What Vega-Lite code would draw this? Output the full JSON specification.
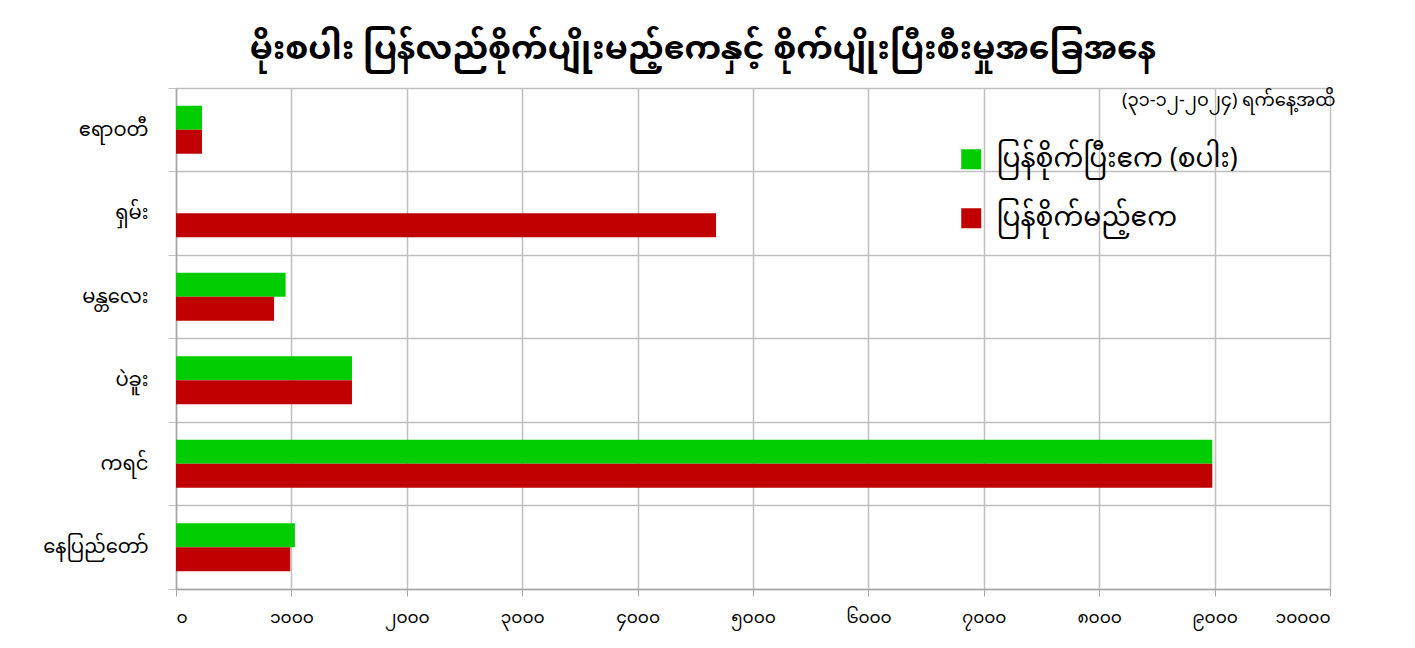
{
  "$schema": "https://vega.github.io/schema/vega-lite/v6.json",
  "autosize": "none",
  "width": 1154,
  "height": 501,
  "padding": {"left": 176, "top": 88, "right": 85, "bottom": 59},
  "background": "white",
  "config": {
    "font": "Noto Sans Myanmar, Padauk, Myanmar Text, Noto Sans",
    "view": {"stroke": null}
  },
  "title": {
    "text": "မိုးစပါး ပြန်လည်စိုက်ပျိုးမည့်ဧကနှင့် စိုက်ပျိုးပြီးစီးမှုအခြေအနေ",
    "fontSize": 33,
    "fontWeight": "bold",
    "color": "black",
    "anchor": "middle",
    "frame": "group",
    "dx": -50,
    "offset": 12
  },
  "data": {
    "values": [
      {"region": "ဧရာဝတီ", "series": "ပြန်စိုက်ပြီးဧက (စပါး)", "acres": 225},
      {"region": "ဧရာဝတီ", "series": "ပြန်စိုက်မည့်ဧက", "acres": 225},
      {"region": "ရှမ်း", "series": "ပြန်စိုက်ပြီးဧက (စပါး)", "acres": 0},
      {"region": "ရှမ်း", "series": "ပြန်စိုက်မည့်ဧက", "acres": 4680},
      {"region": "မန္တလေး", "series": "ပြန်စိုက်ပြီးဧက (စပါး)", "acres": 950},
      {"region": "မန္တလေး", "series": "ပြန်စိုက်မည့်ဧက", "acres": 850},
      {"region": "ပဲခူး", "series": "ပြန်စိုက်ပြီးဧက (စပါး)", "acres": 1525},
      {"region": "ပဲခူး", "series": "ပြန်စိုက်မည့်ဧက", "acres": 1525},
      {"region": "ကရင်", "series": "ပြန်စိုက်ပြီးဧက (စပါး)", "acres": 8980},
      {"region": "ကရင်", "series": "ပြန်စိုက်မည့်ဧက", "acres": 8980},
      {"region": "နေပြည်တော်", "series": "ပြန်စိုက်ပြီးဧက (စပါး)", "acres": 1030},
      {"region": "နေပြည်တော်", "series": "ပြန်စိုက်မည့်ဧက", "acres": 990}
    ]
  },
  "mark": {"type": "bar"},
  "encoding": {
    "y": {
      "field": "region",
      "type": "nominal",
      "sort": ["ဧရာဝတီ", "ရှမ်း", "မန္တလေး", "ပဲခူး", "ကရင်", "နေပြည်တော်"],
      "scale": {"paddingInner": 0, "paddingOuter": 0},
      "axis": {
        "title": "(၃၁-၁၂-၂၀၂၄) ရက်နေ့အထိ",
        "titleAngle": 0,
        "titleX": 1159,
        "titleY": 12,
        "titleAlign": "right",
        "titleBaseline": "middle",
        "titleFontSize": 18,
        "titleFontWeight": "normal",
        "titleColor": "black",
        "bandPosition": 1,
        "tickExtra": true,
        "grid": true,
        "gridColor": "#BFBFBF",
        "gridWidth": 1.5,
        "tickColor": "#BFBFBF",
        "tickSize": 8,
        "domainColor": "#A6A6A6",
        "domainWidth": 1.5,
        "labelFontSize": 19.5,
        "labelColor": "black",
        "labelPadding": 20
      }
    },
    "yOffset": {
      "field": "series",
      "type": "nominal",
      "sort": ["ပြန်စိုက်ပြီးဧက (စပါး)", "ပြန်စိုက်မည့်ဧက"],
      "scale": {"paddingInner": 0, "paddingOuter": 0.74}
    },
    "x": {
      "field": "acres",
      "type": "quantitative",
      "scale": {"domain": [0, 10000], "nice": false},
      "axis": {
        "title": null,
        "values": [0, 1000, 2000, 3000, 4000, 5000, 6000, 7000, 8000, 9000, 10000],
        "labelExpr": "replace(replace(replace(replace(replace(replace(replace(replace(replace(replace(format(datum.value,'d'),/0/g,'၀'),/1/g,'၁'),/2/g,'၂'),/3/g,'၃'),/4/g,'၄'),/5/g,'၅'),/6/g,'၆'),/7/g,'၇'),/8/g,'၈'),/9/g,'၉')",
        "grid": true,
        "gridColor": "#BFBFBF",
        "gridWidth": 1.5,
        "tickColor": "#A6A6A6",
        "tickSize": 7,
        "domainColor": "#A6A6A6",
        "domainWidth": 1.5,
        "labelFontSize": 17,
        "labelColor": "black",
        "labelPadding": 13
      }
    },
    "color": {
      "field": "series",
      "type": "nominal",
      "sort": ["ပြန်စိုက်ပြီးဧက (စပါး)", "ပြန်စိုက်မည့်ဧက"],
      "scale": {"domain": ["ပြန်စိုက်ပြီးဧက (စပါး)", "ပြန်စိုက်မည့်ဧက"], "range": ["#00CC00", "#C00000"]},
      "legend": {
        "title": null,
        "orient": "none",
        "legendX": 782,
        "legendY": 58,
        "symbolType": "square",
        "symbolSize": 400,
        "symbolStrokeWidth": 0,
        "labelFontSize": 26.5,
        "labelColor": "black",
        "labelOffset": 12,
        "rowPadding": 32,
        "labelLimit": 400
      }
    }
  }
}
